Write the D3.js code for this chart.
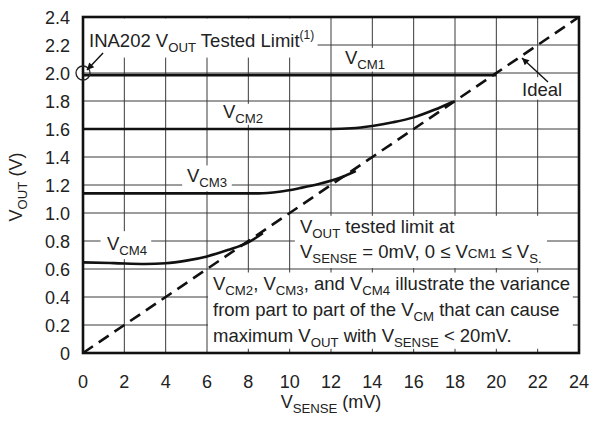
<!DOCTYPE html>
<html><head><meta charset="utf-8">
<script src="https://cdn.jsdelivr.net/npm/d3@7"></script>
<style>
html,body{margin:0;padding:0;background:#fff;}
text{font-family:"Liberation Sans",Arial,Helvetica,sans-serif;fill:#222;}
</style></head>
<body>
<svg id="c" width="590" height="423"></svg>
<script>
// ---- data ----
const xTicks = [0,2,4,6,8,10,12,14,16,18,20,22,24];
const yTicks = [0,0.2,0.4,0.6,0.8,1.0,1.2,1.4,1.6,1.8,2.0,2.2,2.4];
const yTickLabels = ["0","0.2","0.4","0.6","0.8","1.0","1.2","1.4","1.6","1.8","2.0","2.2","2.4"];
const ideal = [[0,0],[24,2.4]];
const vcm1 = [[0,1.985],[20,1.985]];
const vcm2 = [[0,1.60],[12,1.60],[13,1.605],[14,1.622],[15,1.648],[16,1.683],[17,1.737],[17.9,1.795]];
const vcm3 = [[0,1.14],[8.5,1.14],[9.5,1.152],[10.5,1.178],[11.5,1.21],[12.5,1.255],[13.2,1.3]];
const vcm4 = [[0,0.647],[1.5,0.642],[3,0.636],[4,0.641],[5,0.66],[6,0.69],[7,0.735],[8,0.79],[8.7,0.855]];

// ---- layout ----
const svg = d3.select("#c");
const x = d3.scaleLinear().domain([0,24]).range([83,579]);
const y = d3.scaleLinear().domain([0,2.4]).range([353,17]);

const FS = 18.5;
const TFS = 18;

// gridlines
const grid = svg.append("g");
grid.selectAll("line.v").data(xTicks.slice(1,-1)).join("line")
  .attr("x1",d=>x(d)).attr("x2",d=>x(d)).attr("y1",y(0)).attr("y2",y(2.4))
  .attr("stroke","#3a3a3a").attr("stroke-width",1);
grid.selectAll("line.h").data(yTicks.slice(1,-1)).join("line")
  .attr("x1",x(0)).attr("x2",x(24)).attr("y1",d=>y(d)).attr("y2",d=>y(d))
  .attr("stroke","#3a3a3a").attr("stroke-width",1);

// white backgrounds (cover gridlines)
function bg(x0,x1,y0,y1){
  svg.append("rect").attr("x",x(x0)).attr("y",y(y1)).attr("width",x(x1)-x(x0)).attr("height",y(y0)-y(y1)).attr("fill","#fff");
}
bg(0.05,11.35,2.11,2.39);    // tested limit label
bg(12.45,14.7,2.01,2.18);     // VCM1
bg(6.5,9.1,1.63,1.78);        // VCM2
bg(4.8,7.2,1.155,1.34);       // VCM3
bg(0.85,3.3,0.67,0.87);       // VCM4
bg(21.1,23.3,1.81,1.97);      // Ideal
bg(10.25,22.45,0.607,0.98);   // text block 1
bg(6.05,23.7,0.03,0.575);     // text block 2

// axes ticks labels
svg.append("g").selectAll("text").data(yTicks).join("text")
  .attr("x",70).attr("y",d=>y(d)+6.5).attr("text-anchor","end")
  .attr("font-size",TFS).text((d,i)=>yTickLabels[i]);
svg.append("g").selectAll("text").data(xTicks).join("text")
  .attr("x",d=>x(d)).attr("y",388).attr("text-anchor","middle")
  .attr("font-size",TFS).text(d=>d);

// rich text helper
function rich(px,py,segs,opts={}){
  const fsz = opts.fs || FS;
  const t = svg.append("text").attr("x",px).attr("y",py).attr("font-size",fsz);
  if(opts.anchor) t.attr("text-anchor",opts.anchor);
  if(opts.rotate) t.attr("transform",`rotate(-90 ${px} ${py})`);
  let shift = 0;
  segs.forEach(s=>{
    let txt, dy=0, fs=fsz;
    if(typeof s==="string"){ txt=s; dy=-shift; shift=0; }
    else if(s.sub!==undefined){ txt=s.sub; fs=13.2; dy=5-shift; shift=5; }
    else if(s.sup!==undefined){ txt=s.sup; fs=12; dy=-8-shift; shift=-8; }
    else if(s.sm!==undefined){ txt=s.sm; fs=13.5; dy=-shift; shift=0; }
    t.append("tspan").attr("dy",dy).attr("font-size",fs).text(txt);
  });
  return t;
}

// curves
const line = d3.line().x(d=>x(d[0])).y(d=>y(d[1])).curve(d3.curveMonotoneX);
svg.append("path").attr("d",line(ideal)).attr("fill","none").attr("stroke","#111")
  .attr("stroke-width",2.6).attr("stroke-dasharray","12,7");
[vcm1,vcm2,vcm3,vcm4].forEach(s=>{
  svg.append("path").attr("d",line(s)).attr("fill","none").attr("stroke","#111").attr("stroke-width",2.6);
});

// frame
svg.append("rect").attr("x",x(0)).attr("y",y(2.4)).attr("width",x(24)-x(0)).attr("height",y(0)-y(2.4))
  .attr("fill","none").attr("stroke","#111").attr("stroke-width",2.6);

// markers
const defs = svg.append("defs");
defs.append("marker").attr("id","ah").attr("viewBox","0 0 10 10").attr("refX",10).attr("refY",5)
  .attr("markerWidth",11).attr("markerHeight",7).attr("markerUnits","userSpaceOnUse").attr("orient","auto")
  .append("path").attr("d","M0,0 L10,5 L0,10 Z").attr("fill","#111");

// tested limit circle + arrow
svg.append("circle").attr("cx",x(0)).attr("cy",y(2.0)).attr("r",7).attr("fill","none").attr("stroke","#222").attr("stroke-width",1.3);
svg.append("line").attr("x1",x(0.97)).attr("y1",y(2.143)).attr("x2",x(0.19)).attr("y2",y(2.021))
  .attr("stroke","#111").attr("stroke-width",1.4).attr("marker-end","url(#ah)");
// ideal arrow
svg.append("line").attr("x1",x(22.5)).attr("y1",y(1.936)).attr("x2",x(21.24)).attr("y2",y(2.107))
  .attr("stroke","#111").attr("stroke-width",1.4).attr("marker-end","url(#ah)");

// labels
rich(89,47,["INA202 V",{sub:"OUT"}," Tested Limit",{sup:"(1)"}]);
rich(345,64,["V",{sub:"CM1"}]);
rich(223,118,["V",{sub:"CM2"}]);
rich(187,182,["V",{sub:"CM3"}]);
rich(107,250,["V",{sub:"CM4"}]);
rich(522,96,["Ideal"]);
rich(300,233,["V",{sub:"OUT"}," tested limit at"]);
rich(300,258,["V",{sub:"SENSE"}," = 0mV, 0 \u2264 V",{sm:"CM1"}," \u2264 V",{sub:"S"},{sub:"."}]);
rich(213,290,["V",{sub:"CM2"},", V",{sub:"CM3"},", and V",{sub:"CM4"}," illustrate the variance"]);
rich(213,316,["from part to part of the V",{sub:"CM"}," that can cause"]);
rich(213,342,["maximum V",{sub:"OUT"}," with V",{sub:"SENSE"}," < 20mV."]);

// axis titles
rich(x(12),408,["V",{sub:"SENSE"}," (mV)"],{anchor:"middle",fs:18});
rich(22,187,["V",{sub:"OUT"}," (V)"],{anchor:"middle",rotate:true,fs:18});
</script>
</body></html>
